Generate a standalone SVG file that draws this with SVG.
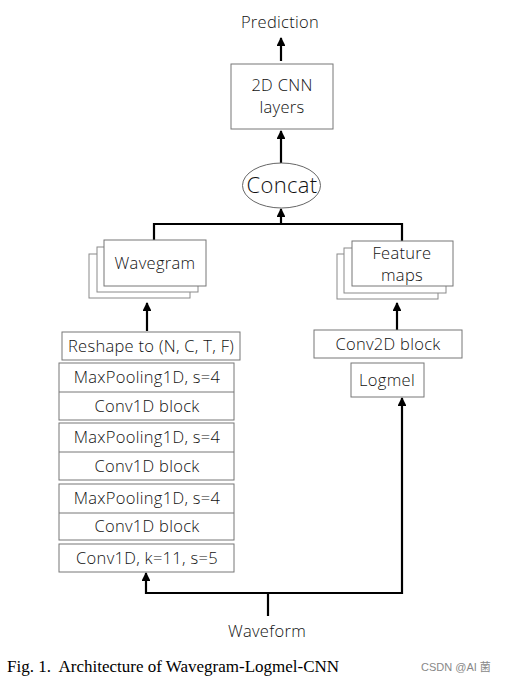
<svg xmlns="http://www.w3.org/2000/svg" width="505" height="692" viewBox="0 0 505 692">
<defs>
<style>
.t{font-family:"Open Sans","Noto Sans",sans-serif;font-weight:300;font-size:16.5px;letter-spacing:0.3px;fill:#111;text-anchor:middle}
.box{fill:#fff;stroke:#777;stroke-width:1}
.stk{fill:#fff;stroke:#8a8a8a;stroke-width:1}
.ln{fill:none;stroke:#000;stroke-width:2.2}
.cap{font-family:"Liberation Serif","Times New Roman",serif;font-size:17px;fill:#000}
.wm{font-family:"Liberation Sans","Noto Sans CJK SC",sans-serif;font-size:11px;fill:#888}
</style>
<marker id="ah" viewBox="0 0 10 10" refX="9" refY="5" markerWidth="4" markerHeight="4" orient="auto" markerUnits="strokeWidth">
<path d="M0,0 L10,5 L0,10 z" fill="#000"/>
</marker>
</defs>
<rect width="505" height="692" fill="#fff"/>

<g id="connectors">
<line class="ln" x1="281" y1="61" x2="281" y2="38" marker-end="url(#ah)"/>
<line class="ln" x1="281" y1="163" x2="281" y2="131" marker-end="url(#ah)"/>
<line class="ln" x1="281" y1="224" x2="281" y2="209" marker-end="url(#ah)"/>
<polyline class="ln" points="154,240 154,224 402,224 402,241"/>
<line class="ln" x1="147" y1="331" x2="147" y2="303" marker-end="url(#ah)"/>
<line class="ln" x1="397" y1="330" x2="397" y2="303" marker-end="url(#ah)"/>
<polyline class="ln" points="146,593 402,593" />
<line class="ln" x1="146" y1="594" x2="146" y2="573" marker-end="url(#ah)"/>
<line class="ln" x1="402" y1="594" x2="402" y2="398" marker-end="url(#ah)"/>
<line class="ln" x1="268" y1="593" x2="268" y2="616"/>
</g>

<g id="prediction"><text class="t" x="280" y="28">Prediction</text></g>

<g id="cnn2d">
<rect class="box" x="231" y="64" width="102" height="65"/>
<text class="t" x="282" y="90.5">2D CNN</text>
<text class="t" x="282" y="113">layers</text>
</g>

<g id="concat">
<ellipse cx="281.5" cy="185.5" rx="39" ry="22.5" fill="#fff" stroke="#666" stroke-width="1"/>
<text class="t" x="282" y="193" style="font-size:22px">Concat</text>
</g>

<g id="wavegram">
<rect class="stk" x="89" y="254" width="101" height="44"/>
<rect class="stk" x="97" y="247" width="101" height="45"/>
<rect class="box" x="104" y="240" width="102" height="46"/>
<text class="t" x="155" y="269">Wavegram</text>
</g>

<g id="featuremaps">
<rect class="stk" x="337" y="254" width="101" height="45"/>
<rect class="stk" x="344" y="248" width="102" height="45"/>
<rect class="box" x="352" y="241" width="101" height="45"/>
<text class="t" x="402" y="259">Feature</text>
<text class="t" x="402" y="280.5">maps</text>
</g>

<g id="reshape">
<rect class="box" x="62" y="332" width="178" height="28"/>
<text class="t" x="151" y="352">Reshape to (N, C, T, F)</text>
</g>

<g id="block1">
<rect class="box" x="59" y="363" width="175" height="57"/>
<line x1="59" y1="392" x2="234" y2="392" stroke="#777"/>
<text class="t" x="147" y="383">MaxPooling1D, s=4</text>
<text class="t" x="147" y="412">Conv1D block</text>
</g>

<g id="block2">
<rect class="box" x="59" y="423" width="175" height="57"/>
<line x1="59" y1="452" x2="234" y2="452" stroke="#777"/>
<text class="t" x="147" y="443">MaxPooling1D, s=4</text>
<text class="t" x="147" y="472">Conv1D block</text>
</g>

<g id="block3">
<rect class="box" x="59" y="484" width="175" height="56"/>
<line x1="59" y1="513" x2="234" y2="513" stroke="#777"/>
<text class="t" x="147" y="504">MaxPooling1D, s=4</text>
<text class="t" x="147" y="532">Conv1D block</text>
</g>

<g id="conv1d">
<rect class="box" x="59" y="544" width="175" height="28"/>
<text class="t" x="147" y="564">Conv1D, k=11, s=5</text>
</g>

<g id="conv2d">
<rect class="box" x="314" y="330" width="148" height="28"/>
<text class="t" x="388" y="350">Conv2D block</text>
</g>

<g id="logmel">
<rect class="box" x="351" y="363" width="73" height="34"/>
<text class="t" x="387" y="386">Logmel</text>
</g>

<g id="waveform"><text class="t" x="267" y="637">Waveform</text></g>

<text class="cap" x="7" y="672" xml:space="preserve">Fig. 1.  Architecture of Wavegram-Logmel-CNN</text>
<text class="wm" x="421" y="671">CSDN @AI 菌</text>
</svg>
